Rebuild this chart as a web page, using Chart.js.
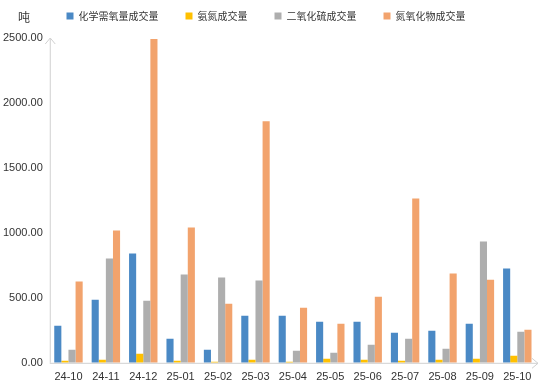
<!DOCTYPE html>
<html>
<head>
<meta charset="utf-8">
<script src="https://cdn.jsdelivr.net/npm/chart.js@4/dist/chart.umd.min.js"></script>
<style>
html,body{margin:0;padding:0;background:#fff;}
#wrap{position:relative;width:554px;height:387px;}
#unit{position:absolute;left:18px;top:8px;font:12px "Noto Sans CJK SC","Liberation Sans",sans-serif;color:#333;}
</style>
</head>
<body>
<div id="wrap">
<canvas id="c" width="554" height="387"></canvas>
<span id="unit">吨</span>
</div>
<script>
const categories = ["24-10","24-11","24-12","25-01","25-02","25-03","25-04","25-05","25-06","25-07","25-08","25-09","25-10"];
const seriesNames = ["化学需氧量成交量","氨氮成交量","二氧化硫成交量","氮氧化物成交量"];
const codValues = [285, 486, 841, 185, 100, 363, 363, 316, 316, 231, 247, 301, 725];
const nh3Values = [15, 23, 69, 15, 8, 23, 8, 31, 23, 15, 23, 31, 54];
const so2Values = [100, 802, 478, 679, 656, 633, 93, 77, 139, 185, 108, 934, 239];
const noxValues = [625, 1019, 2492, 1042, 455, 1860, 424, 301, 509, 1265, 687, 640, 255];
const yTicks = [0, 500, 1000, 1500, 2000, 2500];
const colors = ["#4A89C5", "#FFC000", "#AEAEAE", "#F2A36D"];
const allValues = [codValues, nh3Values, so2Values, noxValues];

const axisColor = "#D0D0D0";
const arrowPlugin = {
  id: "arrows",
  beforeInit(chart) {
    if (chart.legend) {
      const f = chart.legend.fit;
      chart.legend.fit = function () { f.call(this); this.height += 7; };
    }
  },
  afterDraw(chart) {
    const {ctx, chartArea: a} = chart;
    ctx.save();
    ctx.strokeStyle = axisColor;
    ctx.lineWidth = 1;
    ctx.beginPath();
    ctx.moveTo(a.left + 0.5, a.bottom);
    ctx.lineTo(a.left + 0.5, a.top);
    ctx.moveTo(a.left + 0.5 - 5, a.top + 6);
    ctx.lineTo(a.left + 0.5, a.top);
    ctx.lineTo(a.left + 0.5 + 5, a.top + 6);
    ctx.moveTo(a.left, a.bottom + 0.5);
    ctx.lineTo(a.right + 2, a.bottom + 0.5);
    ctx.moveTo(a.right - 4, a.bottom + 0.5 - 5);
    ctx.lineTo(a.right + 2, a.bottom + 0.5);
    ctx.lineTo(a.right - 4, a.bottom + 0.5 + 5);
    ctx.stroke();
    ctx.restore();
  }
};

new Chart(document.getElementById("c"), {
  type: "bar",
  data: {
    labels: categories,
    datasets: seriesNames.map((n, i) => ({
      label: n,
      data: allValues[i],
      backgroundColor: colors[i],
      borderWidth: 0,
      barPercentage: 1,
      categoryPercentage: 0.76
    }))
  },
  options: {
    responsive: false,
    animation: false,
    events: [],
    layout: {padding: {left: -4, right: 18, top: -16, bottom: -5}},
    plugins: {
      tooltip: {enabled: false},
      legend: {
        position: "top",
        align: "center",
        labels: {
          boxWidth: 7,
          boxHeight: 7,
          padding: 27,
          color: "#333",
          font: {size: 10, family: "'Noto Sans CJK SC', sans-serif"}
        }
      }
    },
    scales: {
      x: {
        grid: {display: false, drawTicks: false},
        border: {display: false},
        ticks: {color: "#333", padding: 8, font: {size: 11, family: "'Liberation Sans', Arial, sans-serif"}, maxRotation: 0, autoSkip: false}
      },
      y: {
        min: 0,
        max: 2500,
        afterBuildTicks: (s) => { s.ticks = yTicks.map(v => ({value: v})); },
        grid: {display: false, drawTicks: false},
        border: {display: false},
        ticks: {color: "#333", padding: 7, font: {size: 11, family: "'Liberation Sans', Arial, sans-serif"}, callback: v => Number(v).toFixed(2)}
      }
    }
  },
  plugins: [arrowPlugin]
});
</script>
</body>
</html>
